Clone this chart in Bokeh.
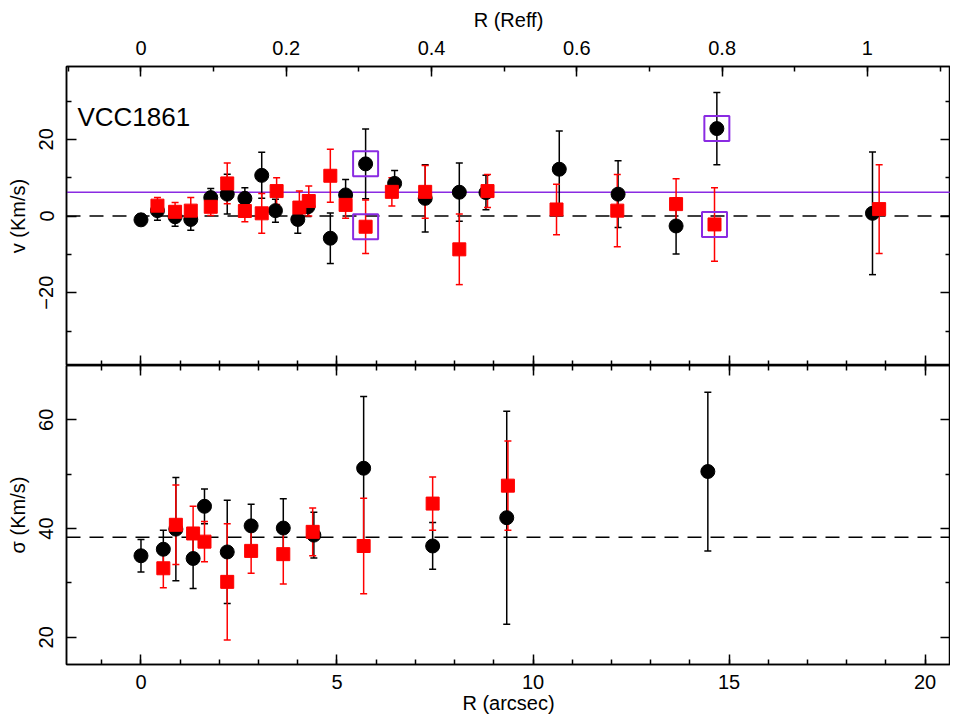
from bokeh.plotting import figure
from bokeh.layouts import column
from bokeh.models import (Range1d, LinearAxis, FixedTicker, Span, Whisker, TeeHead,
                          Label, ColumnDataSource, CustomJSTickFormatter)
from bokeh.embed import file_html
from bokeh.resources import INLINE

# ---------------- data ----------------
galaxy = "VCC1861"
reff_arcsec = 18.53          # 1 Reff in arcsec (top axis)
v_sys = 6.2                  # purple systemic line
sigma_mean = 38.4            # dashed line in sigma panel

# velocity panel, black circles
vb_r = [0.0, 0.42, 0.87, 1.27, 1.78, 2.2, 2.65, 3.08, 3.43, 4.0, 4.26, 4.83, 5.22,
        5.73, 6.47, 7.25, 8.12, 8.8, 10.67, 12.17, 13.65, 14.69, 18.66]
vb_v = [-1.0, 1.4, -0.2, -0.9, 4.8, 5.7, 4.6, 10.6, 1.4, -0.9, 2.4, -5.8, 5.5,
        13.6, 8.5, 4.6, 6.2, 6.1, 12.2, 5.7, -2.6, 22.8, 0.7]
vb_e = [1.5, 2.5, 2.5, 2.8, 2.4, 5.2, 2.8, 6.0, 3.0, 3.6, 2.5, 6.6, 4.0,
        9.1, 3.4, 8.8, 7.6, 4.5, 10.0, 8.7, 7.3, 9.4, 16.0]
vb_flag = [False] * 13 + [True] + [False] * 7 + [True, False]

# velocity panel, red squares
vr_r = [0.42, 0.87, 1.27, 1.78, 2.2, 2.65, 3.08, 3.46, 4.04, 4.28, 4.83, 5.22,
        5.73, 6.4, 7.25, 8.12, 8.84, 10.6, 12.15, 13.65, 14.63, 18.83]
vr_v = [2.7, 1.1, 1.4, 2.4, 8.5, 1.3, 0.7, 6.5, 2.2, 3.9, 10.5, 2.9,
        -2.8, 6.3, 6.3, -8.7, 6.5, 1.7, 1.4, 3.1, -2.2, 1.8]
vr_e = [2.1, 2.4, 3.4, 2.3, 5.3, 2.8, 5.2, 3.5, 4.3, 3.9, 6.9, 3.5,
        7.0, 3.7, 6.9, 9.2, 4.3, 6.6, 9.4, 6.6, 9.6, 11.6]
vr_flag = [False] * 12 + [True] + [False] * 7 + [True, False]

# dispersion panel, black circles
sb_r = [0.0, 0.57, 0.89, 1.33, 1.62, 2.2, 2.81, 3.63, 4.41, 5.68, 7.44, 9.33, 14.46]
sb_s = [35.0, 36.2, 39.9, 34.5, 44.1, 35.7, 40.5, 40.1, 38.8, 51.1, 36.8, 42.0, 50.5]
sb_e = [3.0, 3.5, 9.5, 5.5, 3.2, 9.5, 4.0, 5.4, 4.2, 13.2, 4.3, 19.6, 14.6]

# dispersion panel, red squares
sr_r = [0.57, 0.89, 1.33, 1.62, 2.2, 2.81, 3.63, 4.38, 5.68, 7.44, 9.36]
sr_s = [32.7, 40.7, 39.1, 37.6, 30.2, 35.9, 35.3, 39.4, 36.8, 44.6, 47.9]
sr_e = [3.6, 7.3, 5.0, 3.7, 10.7, 4.1, 5.5, 4.4, 8.8, 4.9, 8.2]

# axes
x_lim = (-1.9, 20.65)
v_lim = (-39, 39)
s_lim = (15, 70)
x_ticks = [0, 5, 10, 15, 20]
x_minor = list(range(-1, 21))
reff_ticks = [0, 0.2, 0.4, 0.6, 0.8, 1.0]
reff_labels = ["0", "0.2", "0.4", "0.6", "0.8", "1"]
reff_minor = [round(0.1 * i, 1) for i in range(-1, 12)]
v_ticks = [-20, 0, 20]
v_labels = ["\u221220", "0", "20"]
v_minor = [-30, -10, 10, 30]
s_ticks = [20, 40, 60]
s_labels = ["20", "40", "60"]
s_minor = [30, 50]

FONT = "Liberation Sans"
PURPLE = "#8a2be2"
RED = "#ff0000"


def make_axis(ticks, minor, labels=None, blank=False, label=None,
              standoff=8, label_standoff=2, **kw):
    ax = LinearAxis(**kw)
    ax.ticker = FixedTicker(ticks=ticks, minor_ticks=minor)
    ax.major_tick_in = 10
    ax.major_tick_out = 0
    ax.minor_tick_in = 5
    ax.minor_tick_out = 0
    ax.axis_line_width = 1.5
    ax.major_tick_line_width = 1.5
    ax.minor_tick_line_width = 1.5
    ax.axis_line_color = "black"
    ax.major_tick_line_color = "black"
    ax.minor_tick_line_color = "black"
    ax.major_label_text_font = FONT
    ax.major_label_text_font_size = "20px"
    ax.major_label_text_color = "black"
    ax.major_label_standoff = standoff
    if blank:
        ax.formatter = CustomJSTickFormatter(code="return ''")
        ax.major_label_standoff = 0
        ax.major_label_text_font_size = "1px"
    elif labels is not None:
        ax.major_label_overrides = {t: s for t, s in zip(ticks, labels)}
    if label:
        ax.axis_label = label
        ax.axis_label_text_font = FONT
        ax.axis_label_text_font_size = "20px"
        ax.axis_label_text_font_style = "normal"
        ax.axis_label_text_color = "black"
        ax.axis_label_standoff = label_standoff
    return ax


def base_fig(y_lim, frame_h, top, bottom):
    p = figure(frame_width=884, frame_height=frame_h,
               x_range=Range1d(*x_lim), y_range=Range1d(*y_lim),
               x_axis_location=None, y_axis_location=None,
               output_backend="svg", toolbar_location=None,
               min_border_left=66, min_border_right=0,
               min_border_top=top, min_border_bottom=bottom)
    p.grid.visible = False
    p.outline_line_color = "black"
    p.outline_line_width = 1.5
    p.background_fill_color = "white"
    p.border_fill_color = "white"
    return p


def error_bars(p, xs, ys, es, color):
    src = ColumnDataSource(dict(x=xs, lo=[y - e for y, e in zip(ys, es)],
                                hi=[y + e for y, e in zip(ys, es)]))
    w = Whisker(source=src, base="x", lower="lo", upper="hi", dimension="height",
                line_color=color, line_width=1.5,
                lower_head=TeeHead(size=7, line_color=color, line_width=1.5),
                upper_head=TeeHead(size=7, line_color=color, line_width=1.5))
    p.add_layout(w)


# ---------------- velocity panel ----------------
p1 = base_fig(v_lim, 299, 66, 0)
p1.extra_x_ranges = {"reff": Range1d(x_lim[0] / reff_arcsec, x_lim[1] / reff_arcsec)}
p1.add_layout(make_axis(v_ticks, v_minor, v_labels, label="v (Km/s)",
                        standoff=13, label_standoff=8), "left")
p1.add_layout(make_axis(v_ticks, v_minor, blank=True), "right")
p1.add_layout(make_axis(x_ticks, x_minor, blank=True), "below")
p1.add_layout(make_axis(reff_ticks, reff_minor, reff_labels, label="R (Reff)",
                        standoff=12, label_standoff=7, x_range_name="reff"), "above")
p1.yaxis.major_label_orientation = "parallel"

p1.add_layout(Span(location=0, dimension="width", line_color="black",
                   line_width=1.5, line_dash="14 9", level="underlay"))
p1.add_layout(Span(location=v_sys, dimension="width", line_color=PURPLE,
                   line_width=1.5, level="underlay"))

error_bars(p1, vb_r, vb_v, vb_e, "black")
error_bars(p1, vr_r, vr_v, vr_e, RED)
p1.scatter(vb_r, vb_v, marker="circle", size=14, fill_color="black", line_color="black")
p1.scatter(vr_r, vr_v, marker="square", size=13, fill_color=RED, line_color=RED)

box_r = [r for r, f in zip(vb_r, vb_flag) if f] + [r for r, f in zip(vr_r, vr_flag) if f]
box_v = [v for v, f in zip(vb_v, vb_flag) if f] + [v for v, f in zip(vr_v, vr_flag) if f]
p1.scatter(box_r, box_v, marker="square", size=25, fill_color=None,
           line_color=PURPLE, line_width=2)

p1.add_layout(Label(x=-1.62, y=25.8, text=galaxy, text_font=FONT,
                    text_font_size="26px", text_color="black",
                    text_baseline="alphabetic"))

# ---------------- dispersion panel ----------------
p2 = base_fig(s_lim, 299, 0, 55)
p2.add_layout(make_axis(s_ticks, s_minor, s_labels, label="\u03c3 (Km/s)",
                        standoff=13, label_standoff=8), "left")
p2.add_layout(make_axis(s_ticks, s_minor, blank=True), "right")
p2.add_layout(make_axis(x_ticks, x_minor, [str(t) for t in x_ticks],
                        label="R (arcsec)", standoff=10, label_standoff=0), "below")
p2.add_layout(make_axis(x_ticks, x_minor, blank=True), "above")
p2.yaxis.major_label_orientation = "parallel"

p2.add_layout(Span(location=sigma_mean, dimension="width", line_color="black",
                   line_width=1.5, line_dash="14 9", level="underlay"))

error_bars(p2, sb_r, sb_s, sb_e, "black")
error_bars(p2, sr_r, sr_s, sr_e, RED)
p2.scatter(sb_r, sb_s, marker="circle", size=14, fill_color="black", line_color="black")
p2.scatter(sr_r, sr_s, marker="square", size=13, fill_color=RED, line_color=RED)

layout = column(p1, p2)
open("out.html", "w").write(file_html(layout, INLINE))
